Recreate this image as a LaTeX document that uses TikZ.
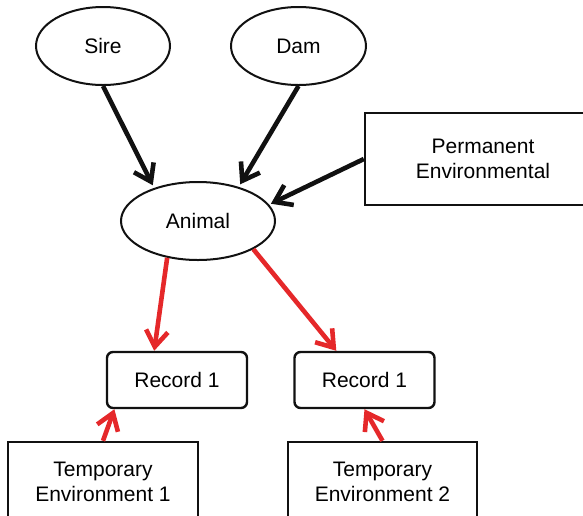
\documentclass[tikz,border=0pt]{standalone}
\usepackage{fontspec}
\setmainfont{Liberation Sans}
\usetikzlibrary{shapes.geometric,arrows.meta}
\definecolor{pedred}{HTML}{E5282A}
\definecolor{pedblack}{HTML}{111111}

\begin{document}
\begin{tikzpicture}[x=0.5pt, y=-0.5pt,
  font=\fontsize{10.5}{12.5}\selectfont,
  oval/.style={draw=pedblack, ellipse, line width=1pt, inner sep=0pt},
  recbox/.style={draw=pedblack, rounded corners=3pt, line width=1.2pt, minimum width=70pt, minimum height=28pt},
  effbox/.style={draw=pedblack, line width=1.2pt, align=center, inner sep=0pt},
  blackarr/.style={pedblack, line width=2.3pt, -{Straight Barb[length=8pt, width=11pt]}},
  redarr/.style={blackarr, pedred}]
\useasboundingbox (0,0) rectangle (583,515);

% parents and animal
\node[oval, minimum width=67pt, minimum height=39pt] (sire) at (103,46) {Sire};
\node[oval, minimum width=67.5pt, minimum height=39pt] (dam) at (298.5,46) {Dam};
\node[oval, minimum width=77pt, minimum height=39pt] (animal) at (198,221) {Animal};
\node[effbox, minimum width=118pt, minimum height=46pt] (perm) at (483,159) {Permanent\\Environmental};

% records
\node[recbox] (rec1) at (177,380) {Record 1};
\node[recbox] (rec2) at (364.5,380) {Record 1};
\node[effbox, minimum width=95pt, minimum height=40pt] (temp1) at (103,482) {Temporary\\Environment 1};
\node[effbox, minimum width=94.5pt, minimum height=40pt] (temp2) at (382.5,482) {Temporary\\Environment 2};

% arrows
\draw[blackarr, shorten >=1.5pt] (sire.south) -- (animal.143);
\draw[blackarr, shorten >=1.5pt] (dam.south) -- (animal.40);
\draw[blackarr, shorten >=1pt] (perm.west) -- (animal.13);
\draw[redarr] (animal.230) -- (rec1.128);
\draw[redarr] (animal.333) -- (rec2.134);
\draw[redarr] (temp1.north) -- (rec1.205);
\draw[redarr] (temp2.north) -- (rec2.south);
\end{tikzpicture}
\end{document}
